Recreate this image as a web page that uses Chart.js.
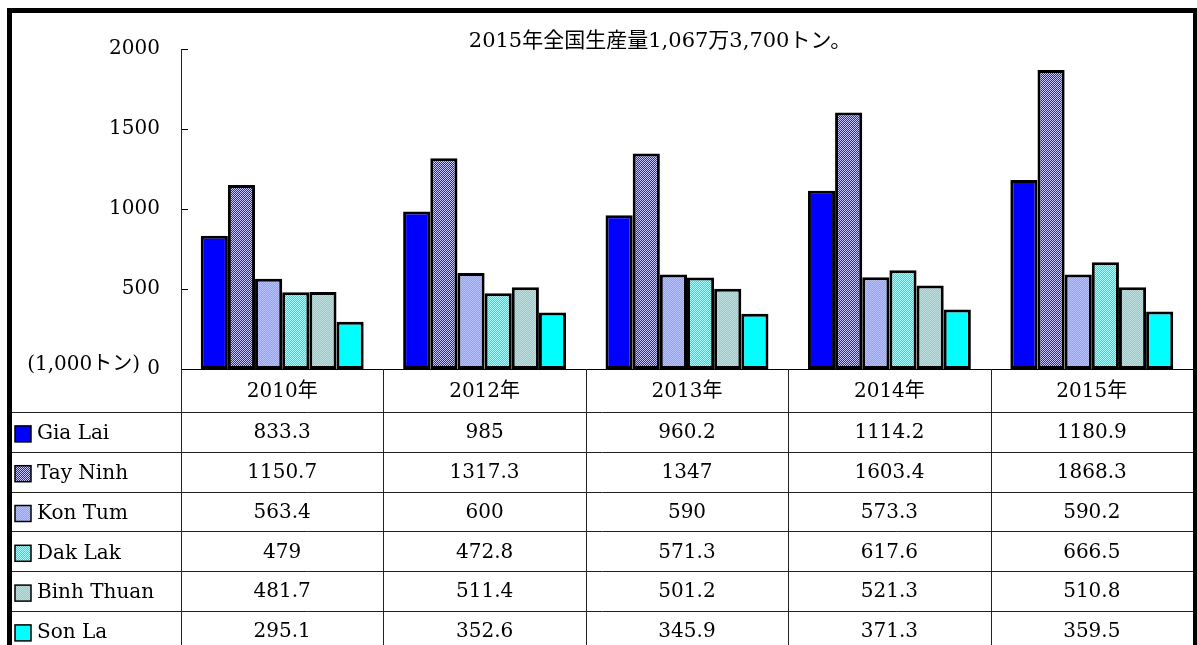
<!DOCTYPE html>
<html>
<head>
<meta charset="utf-8">
<script src="https://cdn.jsdelivr.net/npm/chart.js@4/dist/chart.umd.min.js"></script>
<style>
  html, body { margin: 0; padding: 0; background: #fff; }
  canvas { display: block; }
</style>
</head>
<body>
<canvas id="chart" width="1197" height="645"></canvas>
<script>
'use strict';

// data (1,000 t)
var years = ['2010年', '2012年', '2013年', '2014年', '2015年'];
var provinces = ['Gia Lai', 'Tay Ninh', 'Kon Tum', 'Dak Lak', 'Binh Thuan', 'Son La'];
var giaLai = [833.3, 985, 960.2, 1114.2, 1180.9];
var tayNinh = [1150.7, 1317.3, 1347, 1603.4, 1868.3];
var konTum = [563.4, 600, 590, 573.3, 590.2];
var dakLak = [479, 472.8, 571.3, 617.6, 666.5];
var binhThuan = [481.7, 511.4, 501.2, 521.3, 510.8];
var sonLa = [295.1, 352.6, 345.9, 371.3, 359.5];
var yTicks = [0, 500, 1000, 1500, 2000];
var titleText = '2015年全国生産量1,067万3,700トン。';
var unitText = '(1,000トン)';

var FONT = '"DejaVu Serif", "Noto Sans CJK JP", serif';

// 2x2 checker fills, like the old excel dither patterns
function checker(a, b) {
    var c = document.createElement('canvas');
    c.width = 2; c.height = 2;
    var g = c.getContext('2d');
    g.fillStyle = a; g.fillRect(0, 0, 2, 2);
    g.fillStyle = b; g.fillRect(0, 0, 1, 1); g.fillRect(1, 1, 1, 1);
    return g.createPattern(c, 'repeat');
}

var fills = [
    '#0000ff',
    checker('#2626b8', '#c8c8ff'),
    checker('#9999ff', '#b8c2ff'),
    checker('#33ccff', '#a6ffff'),
    checker('#99c9c9', '#bddede'),
    '#00ffff'
];
var series = [giaLai, tayNinh, konTum, dakLak, binhThuan, sonLa];

var tablePlugin = {
    id: 'dataTable',
    afterDraw: function(chart) {
        var ctx = chart.ctx;
        var x = chart.scales.x, y = chart.scales.y;
        var area = chart.chartArea;
        var colW = x.width / years.length;
        var headTop = area.bottom, rowTop = 412, rowH = 39.8;
        var right = area.right, left = 12;

        ctx.save();

        // inward ticks on the value axis
        ctx.strokeStyle = '#000';
        ctx.lineWidth = 1;
        yTicks.forEach(function(v) {
            var py = Math.round(y.getPixelForValue(v)) + 0.5;
            ctx.beginPath();
            ctx.moveTo(area.left, py);
            ctx.lineTo(area.left + 7, py);
            ctx.stroke();
        });

        // grid lines of the table
        ctx.beginPath();
        ctx.moveTo(area.left, headTop + 0.5);
        ctx.lineTo(right, headTop + 0.5);
        ctx.stroke();
        ctx.strokeStyle = '#222';
        for (var r = 0; r < provinces.length; r++) {
            var ly = Math.round(rowTop + r * rowH) + 0.5;
            ctx.beginPath();
            ctx.moveTo(left, ly);
            ctx.lineTo(right, ly);
            ctx.stroke();
        }
        for (var c = 0; c <= years.length; c++) {
            var lx = Math.round(area.left + c * colW) + 0.5;
            ctx.beginPath();
            ctx.moveTo(lx, c === 0 ? area.top : headTop);
            ctx.lineTo(lx, chart.height);
            ctx.stroke();
        }

        // header + values
        ctx.fillStyle = '#000';
        ctx.font = '20px ' + FONT;
        ctx.textAlign = 'center';
        ctx.textBaseline = 'middle';
        years.forEach(function(label, i) {
            var cx = x.getPixelForValue(i);
            ctx.fillText(label, cx, (headTop + rowTop) / 2 + 1);
            series.forEach(function(vals, r) {
                ctx.fillText(String(vals[i]), cx, rowTop + r * rowH + rowH / 2 + 1);
            });
        });

        // row labels with legend keys
        ctx.textAlign = 'left';
        provinces.forEach(function(name, r) {
            var cy = rowTop + r * rowH + rowH / 2;
            ctx.fillStyle = fills[r];
            ctx.fillRect(15, cy - 6, 16, 16);
            ctx.strokeStyle = '#000';
            ctx.lineWidth = 1.5;
            ctx.strokeRect(15, cy - 6, 16, 16);
            ctx.fillStyle = '#000';
            ctx.fillText(name, 37, cy + 2);
        });

        // unit label and title
        ctx.textAlign = 'right';
        ctx.fillText(unitText, 140, 365);
        ctx.textAlign = 'center';
        ctx.font = '21px ' + FONT;
        ctx.fillText(titleText, 660, 42);

        // heavy frame
        ctx.fillStyle = '#000';
        ctx.fillRect(7, 8, 1190, 5);
        ctx.fillRect(7, 8, 5, chart.height);
        ctx.fillRect(1193, 8, 5, chart.height);

        ctx.restore();
    }
};

new Chart(document.getElementById('chart'), {
    type: 'bar',
    data: {
        labels: years,
        datasets: provinces.map(function(name, i) {
            return {
                label: name,
                data: series[i],
                backgroundColor: fills[i],
                borderColor: '#000',
                borderWidth: 3,
                borderSkipped: false
            };
        })
    },
    options: {
        responsive: false,
        animation: false,
        layout: { padding: { top: 49, bottom: 276, right: 4, left: 0 } },
        plugins: {
            legend: { display: false },
            tooltip: { enabled: false }
        },
        datasets: {
            bar: { categoryPercentage: 0.805, barPercentage: 1 }
        },
        scales: {
            x: { display: false },
            y: {
                min: 0,
                max: 2000,
                afterFit: function(scale) { scale.width = 181; },
                afterBuildTicks: function(scale) {
                    scale.ticks = yTicks.map(function(v) { return { value: v }; });
                },
                grid: { display: false, drawTicks: false },
                border: { display: true, color: '#000', width: 1 },
                ticks: {
                    padding: 21,
                    color: '#000',
                    font: { family: FONT, size: 20 },
                    callback: function(v) { return String(v); }
                }
            }
        }
    },
    plugins: [tablePlugin]
});
</script>
</body>
</html>
